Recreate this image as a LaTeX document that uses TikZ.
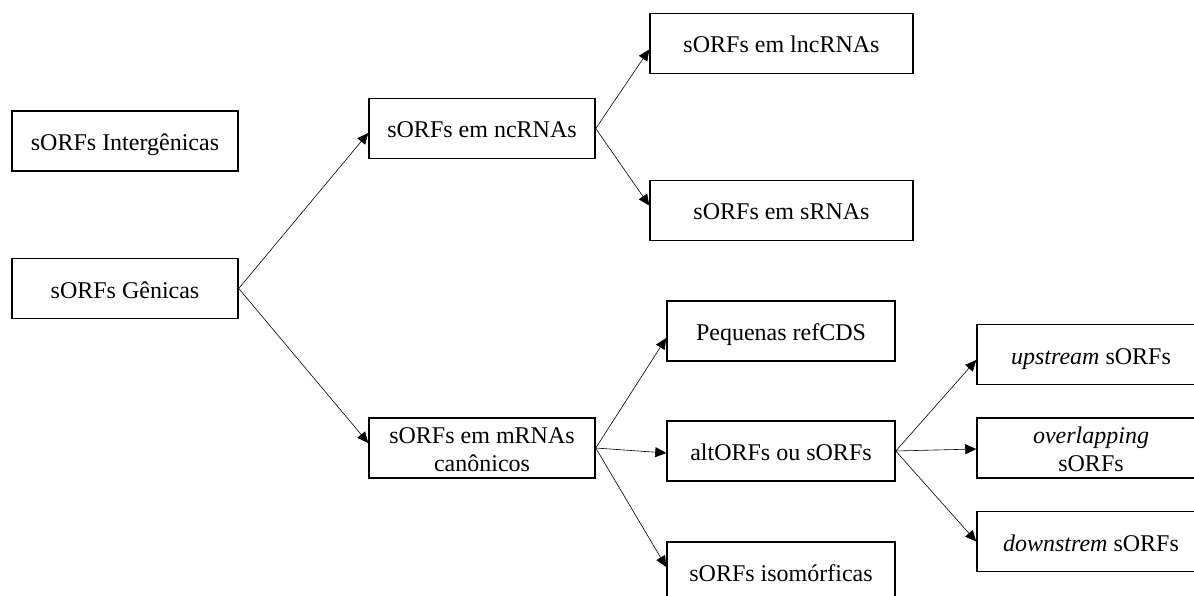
\documentclass[tikz,border=0pt]{standalone}
\usepackage{fontspec}
\setmainfont{Liberation Serif}
\usetikzlibrary{arrows.meta}
\begin{document}
\begin{tikzpicture}[x=1pt,y=-1pt,
  box/.style={draw, line width=1.5pt, inner sep=0pt, minimum height=60pt, align=center,
    font=\fontsize{24}{28}\selectfont, text height=24pt, text depth=5pt},
  twoline/.style={text height=50pt, text depth=4pt},
  arr/.style={line width=0.6pt, -{Triangle[length=11pt,width=10pt]}}]
\useasboundingbox (0,0) rectangle (1194,596);
\begin{scope}
\clip (0,0) rectangle (1194,596);
\node[box, minimum width=226pt] (A) at (125,141) {sORFs Intergênicas};
\node[box, minimum width=226pt] (B) at (125,288.5) {sORFs Gênicas};
\node[box, minimum width=226pt] (C) at (482,128.5) {sORFs em ncRNAs};
\node[box, twoline, minimum width=226pt] (D) at (482,448) {sORFs em mRNAs\\canônicos};
\node[box, minimum width=263pt] (E) at (781.5,43.5) {sORFs em lncRNAs};
\node[box, minimum width=263pt] (F) at (781.5,210.5) {sORFs em sRNAs};
\node[box, minimum width=228pt] (G) at (781,331) {Pequenas refCDS};
\node[box, minimum width=228pt] (H) at (781,451) {altORFs ou sORFs};
\node[box, minimum width=228pt] (I) at (781,572) {sORFs isomórficas};
\node[box, minimum width=228pt] (J) at (1091,354.5) {\textit{upstream} sORFs};
\node[box, twoline, minimum width=228pt] (K) at (1091,448) {\textit{overlapping}\\sORFs};
\node[box, minimum width=228pt] (L) at (1091,541.5) {\textit{downstrem} sORFs};
\draw[arr] (B.east) -- ([yshift=-4.5pt]C.west);
\draw[arr] (B.east) -- ([yshift=5pt]D.west);
\draw[arr] (C.east) -- ([yshift=-6pt]E.west);
\draw[arr] (C.east) -- ([yshift=5pt]F.west);
\draw[arr] (D.east) -- ([yshift=-7pt]G.west);
\draw[arr] (D.east) -- ([yshift=-2pt]H.west);
\draw[arr] (D.east) -- ([yshift=5pt]I.west);
\draw[arr] (H.east) -- ([yshift=-5.5pt]J.west);
\draw[arr] (H.east) -- ([yshift=-1pt]K.west);
\draw[arr] (H.east) -- (L.west);
\end{scope}
\end{tikzpicture}
\end{document}
